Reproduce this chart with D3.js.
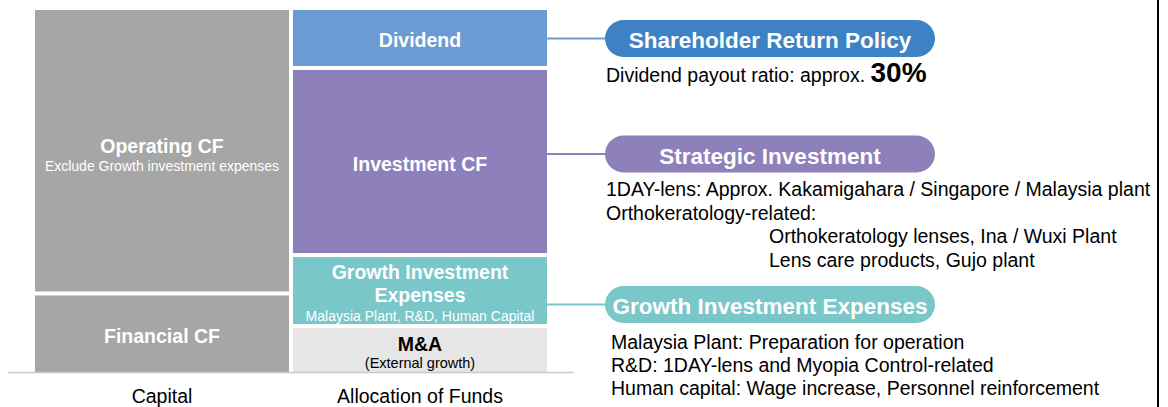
<!DOCTYPE html>
<html>
<head>
<meta charset="utf-8">
<script src="https://cdn.jsdelivr.net/npm/d3@7"></script>
<style>
  html, body { margin: 0; padding: 0; background: #fff; }
  svg { display: block; font-family: "Liberation Sans", Arial, sans-serif; }
</style>
</head>
<body>
<svg id="chart" width="1168" height="407"></svg>
<script>
// ---- data ----
const categories = ["Capital", "Allocation of Funds"];
const capitalItems = ["Financial CF", "Operating CF"];           // bottom -> top
const capitalValues = [21.7, 78.3];
const capitalSub = ["", "Exclude Growth investment expenses"];
const allocationItems = ["M&A", "Growth Investment Expenses", "Investment CF", "Dividend"]; // bottom -> top
const allocationValues = [12.7, 19.6, 51.7, 16.0];
const allocationSub = ["(External growth)", "Malaysia Plant, R&D, Human Capital", "", ""];

const policyTitles = ["Shareholder Return Policy", "Strategic Investment", "Growth Investment Expenses"];
const policyLinks = ["Dividend", "Investment CF", "Growth Investment Expenses"];
const strategicLines = ["1DAY-lens: Approx. Kakamigahara / Singapore / Malaysia plant", "Orthokeratology-related:"];
const strategicSubLines = ["Orthokeratology lenses, Ina / Wuxi Plant", "Lens care products, Gujo plant"];
const growthLines = ["Malaysia Plant: Preparation for operation", "R&D: 1DAY-lens and Myopia Control-related", "Human capital: Wage increase, Personnel reinforcement"];

const fillColors = {
  "Operating CF": "#a6a6a6", "Financial CF": "#a6a6a6",
  "Dividend": "#6b9bd2", "Investment CF": "#8e80bb",
  "Growth Investment Expenses": "#79c7c9", "M&A": "#e6e6e6"
};
const pillColors = ["#3d82c4", "#8e80bb", "#79c7c9"];
const lineColors = ["#6b9bd2", "#8e80bb", "#79c7c9"];

// ---- scales ----
const svg = d3.select("#chart");
const x = d3.scaleBand().domain(categories).range([35, 547]).paddingInner(4 / 258);
const y = d3.scaleLinear().domain([0, 100]).range([372, 10]);
const GAP = 2;

function stack(items, values, subs, cat) {
  let cum = 0;
  return items.map((name, i) => {
    const d = { name, v0: cum, v1: cum + values[i], sub: subs[i], cat, first: i === 0, last: i === items.length - 1 };
    cum += values[i];
    return d;
  });
}
const segs = stack(capitalItems, capitalValues, capitalSub, categories[0])
  .concat(stack(allocationItems, allocationValues, allocationSub, categories[1]));

segs.forEach(d => {
  d.top = y(d.v1) + (d.last ? 0 : GAP);
  d.bottom = y(d.v0) - (d.first ? 0 : GAP);
  d.mid = (d.top + d.bottom) / 2;
});

svg.append("g").selectAll("rect").data(segs).join("rect")
  .attr("x", d => x(d.cat))
  .attr("width", x.bandwidth())
  .attr("y", d => d.top)
  .attr("height", d => d.bottom - d.top)
  .attr("fill", d => fillColors[d.name]);

// ---- segment labels ----
const TF = 19.5, SF = 14;
const lbl = svg.append("g").attr("text-anchor", "middle");
segs.forEach(d => {
  const cx = x(d.cat) + x.bandwidth() / 2;
  const dark = d.name === "M&A";
  const col = dark ? "#000" : "#fff";
  if (d.name === "Growth Investment Expenses") {
    lbl.append("text").attr("x", cx).attr("y", d.mid - 11.5).attr("font-size", TF).attr("font-weight", "bold").attr("fill", col).text("Growth Investment");
    lbl.append("text").attr("x", cx).attr("y", d.mid + 11.5).attr("font-size", TF).attr("font-weight", "bold").attr("fill", col).text("Expenses");
    lbl.append("text").attr("x", cx).attr("y", d.mid + 30.5).attr("font-size", SF).attr("fill", col).text(d.sub);
  } else if (d.sub) {
    const off = dark ? 1 : 2;
    lbl.append("text").attr("x", cx).attr("y", d.mid + off).attr("font-size", TF).attr("font-weight", "bold").attr("fill", col).text(d.name);
    lbl.append("text").attr("x", cx).attr("y", d.mid + off + (dark ? 16.5 : 18)).attr("font-size", dark ? 14.5 : SF).attr("fill", col).text(d.sub);
  } else {
    lbl.append("text").attr("x", cx).attr("y", d.mid + 9.5).attr("font-size", TF).attr("font-weight", "bold").attr("fill", col).text(d.name);
  }
});

// ---- baseline + category axis ----
svg.append("line").attr("x1", 8).attr("x2", 574).attr("y1", 372.5).attr("y2", 372.5)
  .attr("stroke", "#c8c8c8").attr("stroke-width", 1.5);
const axis = svg.append("g").attr("transform", "translate(0,372)")
  .call(d3.axisBottom(x).tickSize(0).tickPadding(17));
axis.select(".domain").remove();
axis.selectAll("text").attr("font-size", 19.5).attr("fill", "#000").attr("font-family", "Liberation Sans, Arial, sans-serif");

// ---- connector lines & pills ----
const pillX = 605, pillW = 330, pillH = 37;
const pillTops = [20, 135.5, 286];
policyTitles.forEach((t, i) => {
  const cy = pillTops[i] + pillH / 2;
  svg.append("line").attr("x1", x(categories[1]) + x.bandwidth()).attr("x2", pillX + 2)
    .attr("y1", cy).attr("y2", cy).attr("stroke", lineColors[i]).attr("stroke-width", 2);
  svg.append("rect").attr("x", pillX).attr("y", pillTops[i]).attr("width", pillW).attr("height", pillH)
    .attr("rx", pillH / 2).attr("fill", pillColors[i]);
  svg.append("text").attr("x", pillX + pillW / 2 + (i === 2 ? 0 : 0)).attr("y", cy + 9.5).attr("text-anchor", "middle")
    .attr("font-size", 22.5).attr("font-weight", "bold").attr("fill", "#fff").text(t);
});

// ---- descriptive text ----
const BF = 19.5;
const dt = svg.append("text").attr("x", 606).attr("y", 82).attr("font-size", BF).attr("fill", "#000");
dt.append("tspan").text("Dividend payout ratio: approx. ");
dt.append("tspan").attr("font-size", 28).attr("font-weight", "bold").text("30%");

strategicLines.forEach((t, i) => {
  svg.append("text").attr("x", 606).attr("y", 196 + i * 23.7).attr("font-size", BF).attr("fill", "#000").text(t);
});
strategicSubLines.forEach((t, i) => {
  svg.append("text").attr("x", 769).attr("y", 243 + i * 23.7).attr("font-size", BF).attr("fill", "#000").text(t);
});
growthLines.forEach((t, i) => {
  svg.append("text").attr("x", 611).attr("y", 349 + i * 23).attr("font-size", BF).attr("fill", "#000").text(t);
});

// right border line
svg.append("line").attr("x1", 1158).attr("x2", 1158).attr("y1", 0).attr("y2", 407)
  .attr("stroke", "#000").attr("stroke-width", 2);
</script>
</body>
</html>
